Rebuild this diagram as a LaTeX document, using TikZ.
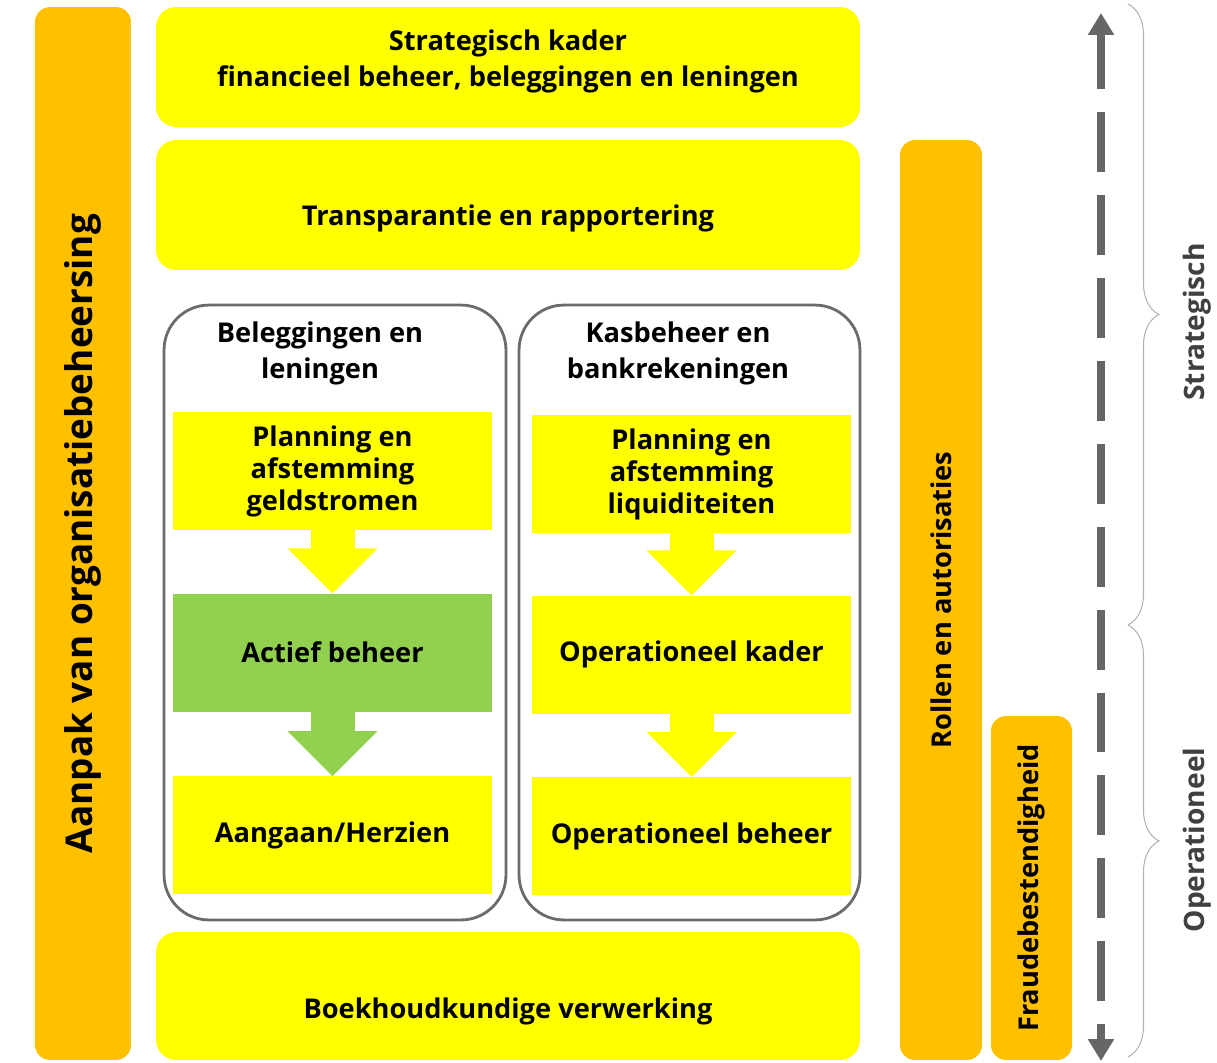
\documentclass[tikz,border=0pt]{standalone}
\usepackage{fontspec}
\setmainfont{Open Sans}
\usetikzlibrary{arrows.meta,positioning,decorations.pathreplacing}
\definecolor{geel}{HTML}{FFFF00}
\definecolor{oranje}{HTML}{FFC000}
\definecolor{groen}{HTML}{92D050}
\definecolor{kaderlijn}{HTML}{6B6B6B}
\definecolor{pijlgrijs}{HTML}{666666}
\definecolor{donker}{HTML}{404040}

% blokpijl tussen twee stappen: schacht + punt
\newcommand{\blokpijl}[3]{%
  \fill[#3] ([xshift=-0.44cm]#1.south) rectangle ([xshift=0.44cm,yshift=0.88cm]#2.north);
  \fill[#3] (#2.north) -- ++(-45,-45) -- ++(90,0) -- cycle;}

\begin{document}
\begin{tikzpicture}[x=0.02cm,y=-0.02cm,
balk/.style={fill=oranje,rounded corners=0.3cm,rotate=90,inner sep=0,font=\bfseries\fontsize{15.5}{18}\selectfont},
laag/.style={fill=geel,rounded corners=0.4cm,minimum width=14.08cm,inner sep=0},
groep/.style={draw=kaderlijn,line width=1.6pt,rounded corners=0.9cm,minimum height=12.3cm},
stap/.style={fill=geel,minimum width=6.38cm,minimum height=2.36cm,align=center,inner sep=0,font=\bfseries\fontsize{15.5}{18.2}\selectfont},
tekst/.style={align=center,font=\bfseries\fontsize{15.5}{20.5}\selectfont},
zij/.style={rotate=90,text=donker,font=\bfseries\fontsize{16}{18}\selectfont},
accolade/.style={draw=gray!60,line width=0.6pt,decorate,decoration={brace,amplitude=0.62cm}},
stippelpijl/.style={draw=pijlgrijs,line width=4pt,dash pattern=on 1.2cm off 0.46cm,dash phase=0.1cm,
  {Triangle[length=0.44cm,width=0.5cm]}-{Triangle[length=0.44cm,width=0.5cm]}}]
\useasboundingbox (0,0) rectangle (1217,1062);

\node[balk,minimum width=21.06cm,minimum height=1.92cm,font=\bfseries\fontsize{21}{26}\selectfont] (aanpak) at (83,533.5) {Aanpak van organisatiebeheersing};
\node[balk,minimum width=18.4cm,minimum height=1.64cm] (rollen) at (941,600) {Rollen en autorisaties};
\node[balk,minimum width=6.88cm,minimum height=1.62cm] (fraude) at (1031.5,888) {Fraudebestendigheid};

\node[laag,minimum height=2.4cm] (kader) at (508,67) {};
\node[tekst] (kadertekst) at (508,61) {Strategisch kader\\financieel beheer, beleggingen en leningen};
\node[laag,minimum height=2.6cm] (transp) at (508,205) {};
\node[tekst] (transptekst) at (508,218) {Transparantie en rapportering};
\node[laag,minimum height=2.56cm] (boekh) at (508,996) {};
\node[tekst] (boekhtekst) at (508,1011) {Boekhoudkundige verwerking};

\node[groep,minimum width=6.84cm] (beleg) at (335,612.5) {};
\node[groep,minimum width=6.82cm] (kas) at (689.5,612.5) {};
\node[tekst] (belegtitel) at (320,353) {Beleggingen en\\leningen};
\node[tekst] (kastitel) at (678,353) {Kasbeheer en\\bankrekeningen};

\node[stap] (plangeld) at (332.5,471) {Planning en\\afstemming\\geldstromen};
\node[stap,fill=groen,below=1.26cm of plangeld] (actief) {Actief beheer};
\node[stap,below=1.28cm of actief] (aangaan) {Aangaan/Herzien};
\node[stap] (planliq) at (691.5,474) {Planning en\\afstemming\\liquiditeiten};
\node[stap,below=1.24cm of planliq] (opkader) {Operationeel kader};
\node[stap,below=1.26cm of opkader] (opbeheer) {Operationeel beheer};

\blokpijl{plangeld}{actief}{geel}
\blokpijl{actief}{aangaan}{groen}
\blokpijl{planliq}{opkader}{geel}
\blokpijl{opkader}{opbeheer}{geel}

\coordinate (boven) at (1101,13);
\coordinate (onder) at (1101,1061);
\draw[stippelpijl] (boven) -- (onder);

\coordinate (strat0) at (1128,4);
\coordinate (grens) at (1128,625);
\coordinate (oper1) at (1128,1057);
\draw[accolade] (strat0) -- (grens);
\draw[accolade] (grens) -- (oper1);
\node[zij] (strategisch) at (1197,322) {Strategisch};
\node[zij] (operationeel) at (1197,840) {Operationeel};
\end{tikzpicture}
\end{document}
